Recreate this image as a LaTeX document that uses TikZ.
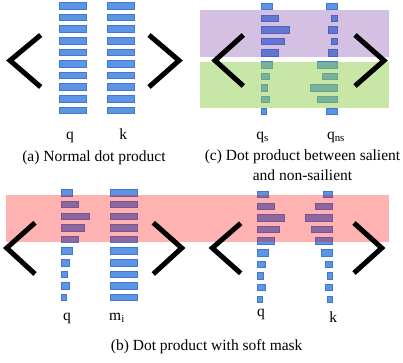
\documentclass[tikz,border=0pt]{standalone}
\usepackage{fontspec}
\setmainfont{Liberation Serif}
\definecolor{barblue}{RGB}{91,150,230}
\definecolor{baredge}{RGB}{70,118,205}
\definecolor{bandpurple}{RGB}{112,48,160}
\definecolor{bandgreen}{RGB}{146,208,80}
\tikzset{
  barbox/.style={fill=barblue, draw=baredge, line width=0.7pt},
  bracket/.style={draw=black, line width=5pt, line join=miter, line cap=butt},
  lbl/.style={anchor=base, inner sep=0pt, font=\fontsize{15.5}{18}\selectfont},
  captext/.style={anchor=base, inner sep=0pt, font=\fontsize{15.5}{20}\selectfont, align=center},
}
% left-aligned column of bars: x-left, y-top, widths
\newcommand{\colL}[3]{%
  \foreach \w [count=\i from 0] in {#3}{
    \draw[barbox] (#1, #2+\i*11.62) rectangle ++(\w, 6.5);
  }}
% right-aligned column of bars: x-right, y-top, widths
\newcommand{\colR}[3]{%
  \foreach \w [count=\i from 0] in {#3}{
    \draw[barbox] (#1, #2+\i*11.62) rectangle ++(-\w, 6.5);
  }}
\begin{document}
\begin{tikzpicture}[x=1pt, y=-1pt]
\useasboundingbox (0,0) rectangle (403,362);
\fill[white] (0,0) rectangle (403,362);

% ---------- panel (a) ----------
\colL{59}{2.5}{27,27,27,27,27,27,27,27,27,27}
\colL{107}{2.5}{27,27,27,27,27,27,27,27,27,27}
\draw[bracket] (40.7,35) -- (10,60.5) -- (40.7,87);
\draw[bracket] (149,35) -- (179,60.5) -- (149,87);
\node[lbl] (aq) at (70,139) {q};
\node[lbl] (ak) at (123.3,139) {k};
\node[captext] (capa) at (94,161) {(a) Normal dot product};

% ---------- panel (c) ----------
\colL{261}{3.3}{11,17,28,23,17,11,8,6,8,5}
\colR{337}{3.3}{11,6,9,6,9,20,15,27,20,11}
\fill[bandpurple, opacity=0.3] (200,10) rectangle (389,56.7);
\fill[bandgreen, opacity=0.5] (200,61.7) rectangle (389,108.3);
\draw[bracket] (243.3,35) -- (215,60.5) -- (243.3,86);
\draw[bracket] (355,35) -- (384,60.5) -- (355,86);
\node[lbl] (cqs) at (262.5,139) {q\textsubscript{s}};
\node[lbl] (cqns) at (336,139) {q\textsubscript{ns}};
\node[captext] (capc1) at (302.5,160) {(c) Dot product between salient};
\node[captext] (capc2) at (302.5,180) {and non-sailient};

% ---------- panel (b) ----------
\colL{61}{189.7}{11,17,28,23,17,11,8,6,8,5}
\colL{110}{189.7}{27,27,27,27,27,27,27,27,27,27}
\colL{257.3}{191.3}{11,17,27,22,17,11,8,6,8,5}
\colR{332.7}{191.3}{9,17,27,21,17,11,7,5,7,5}
\fill[red, opacity=0.3] (6,195) rectangle (389,241.7);
\draw[bracket] (35,222.7) -- (6.7,248) -- (35,274);
\draw[bracket] (153.3,222.7) -- (181.7,248) -- (153.3,274);
\draw[bracket] (240.7,223.3) -- (212.3,248) -- (240.7,273.3);
\draw[bracket] (354,223) -- (381.7,248) -- (354,273);
\node[lbl] (bq) at (67,320) {q};
\node[lbl] (bm) at (117,320.5) {m\textsubscript{i}};
\node[lbl] (bq2) at (261,316.5) {q};
\node[lbl] (bk) at (333.3,322.5) {k};
\node[captext] (capb) at (206.7,350) {(b) Dot product with soft mask};
\end{tikzpicture}
\end{document}
